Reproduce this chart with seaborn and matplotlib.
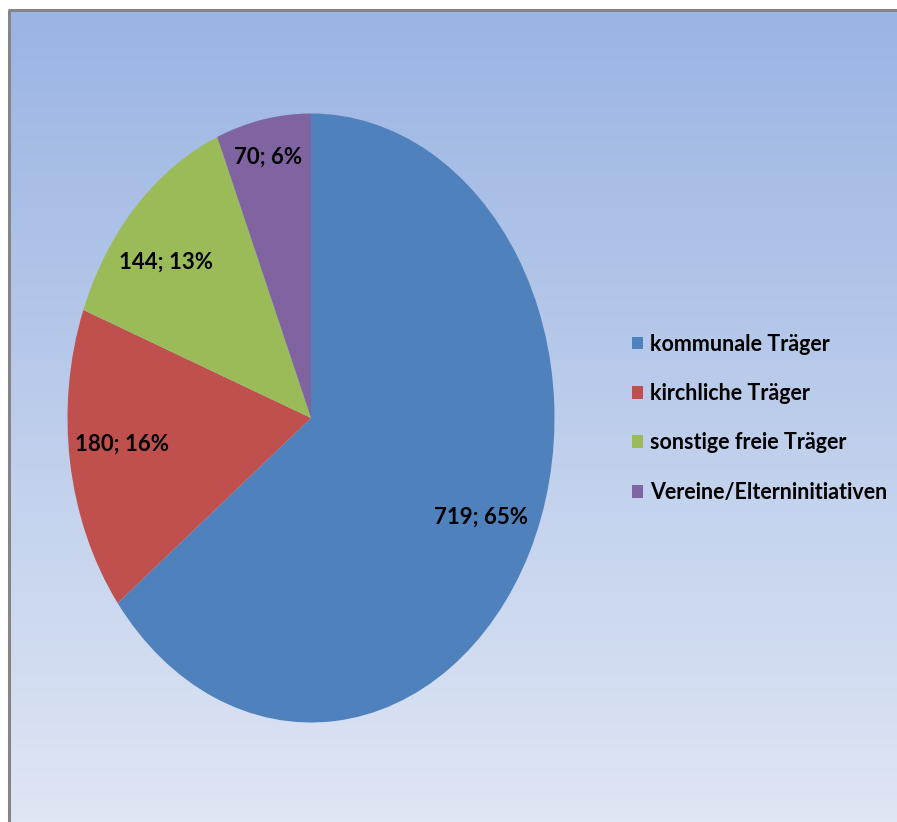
import numpy as np
import matplotlib
matplotlib.use("Agg")
import matplotlib.pyplot as plt
import seaborn as sns
from matplotlib.colors import LinearSegmentedColormap
from matplotlib.patches import Patch
from matplotlib.lines import Line2D

# data
categories = ["kommunale Träger", "kirchliche Träger", "sonstige freie Träger", "Vereine/Elterninitiativen"]
counts = [719, 180, 144, 70]
colors = ["#4F81BD", "#C0504D", "#9BBB59", "#8064A2"]

sns.set_theme(style="white")
plt.rcParams["font.family"] = ["Lato", "DejaVu Sans"]
plt.rcParams["text.color"] = "black"

W, H = 897, 822
fig = plt.figure(figsize=(W / 100, H / 100), dpi=100)
fig.patch.set_facecolor("white")

# gradient background, reaching past the right and bottom edges
bg = fig.add_axes([9 / W, 0, 1 - 9 / W, 1 - 10 / H])
grad = LinearSegmentedColormap.from_list("bg", ["#9AB4E3", "#DFE6F4"])
bg.imshow(np.linspace(0, 1, 256).reshape(-1, 1), cmap=grad, aspect="auto",
          extent=[0, 1, 0, 1])
bg.set_xlim(0, 1)
bg.set_ylim(0, 1)
bg.axis("off")

# grey frame, top and left only
fig.add_artist(Line2D([9 / W, 9 / W], [0, 1 - 10 / H], color="#858585", lw=2.2,
                      transform=fig.transFigure, solid_capstyle="butt"))
fig.add_artist(Line2D([9 / W - 0.001, 1], [1 - 10 / H, 1 - 10 / H], color="#858585", lw=2.2,
                      transform=fig.transFigure, solid_capstyle="butt"))

# pie axes (ellipse, stretched vertically like the original)
cx, cy, rx, ry = 311, 418, 243.5, 304.5
ax = fig.add_axes([(cx - rx) / W, (H - cy - ry) / H, 2 * rx / W, 2 * ry / H])
ax.set_facecolor("none")
total = sum(counts)


def fmt(p):
    v = int(round(p * total / 100))
    return f"{v}; {p:.0f}%"


wedges, texts, autotexts = ax.pie(counts, colors=colors, startangle=90, counterclock=False,
                                  autopct=fmt, pctdistance=0.78, radius=1,
                                  wedgeprops=dict(linewidth=0),
                                  textprops=dict(fontsize=16, fontweight="bold", color="black"))
ax.set_xlim(-1, 1)
ax.set_ylim(-1, 1)
ax.set_aspect("auto")
ax.axis("off")

# Excel-style label placement
label_pos = [(0.70, -0.325), (-0.776, -0.085), (-0.595, 0.512), (-0.177, 0.857)]
for t, pos in zip(autotexts, label_pos):
    t.set_position(pos)

# legend
handles = [Patch(facecolor=c, edgecolor="none") for c in colors]
leg = fig.legend(handles, categories, loc="upper left", bbox_to_anchor=(623 / W, 1 - 325 / H),
                 frameon=False, fontsize=15.5, labelspacing=1.32, handlelength=0.55,
                 handleheight=0.55, handletextpad=0.3, borderaxespad=0)
for t in leg.get_texts():
    t.set_fontweight("bold")
    t.set_color("black")

fig.savefig("out.png", dpi=100)
